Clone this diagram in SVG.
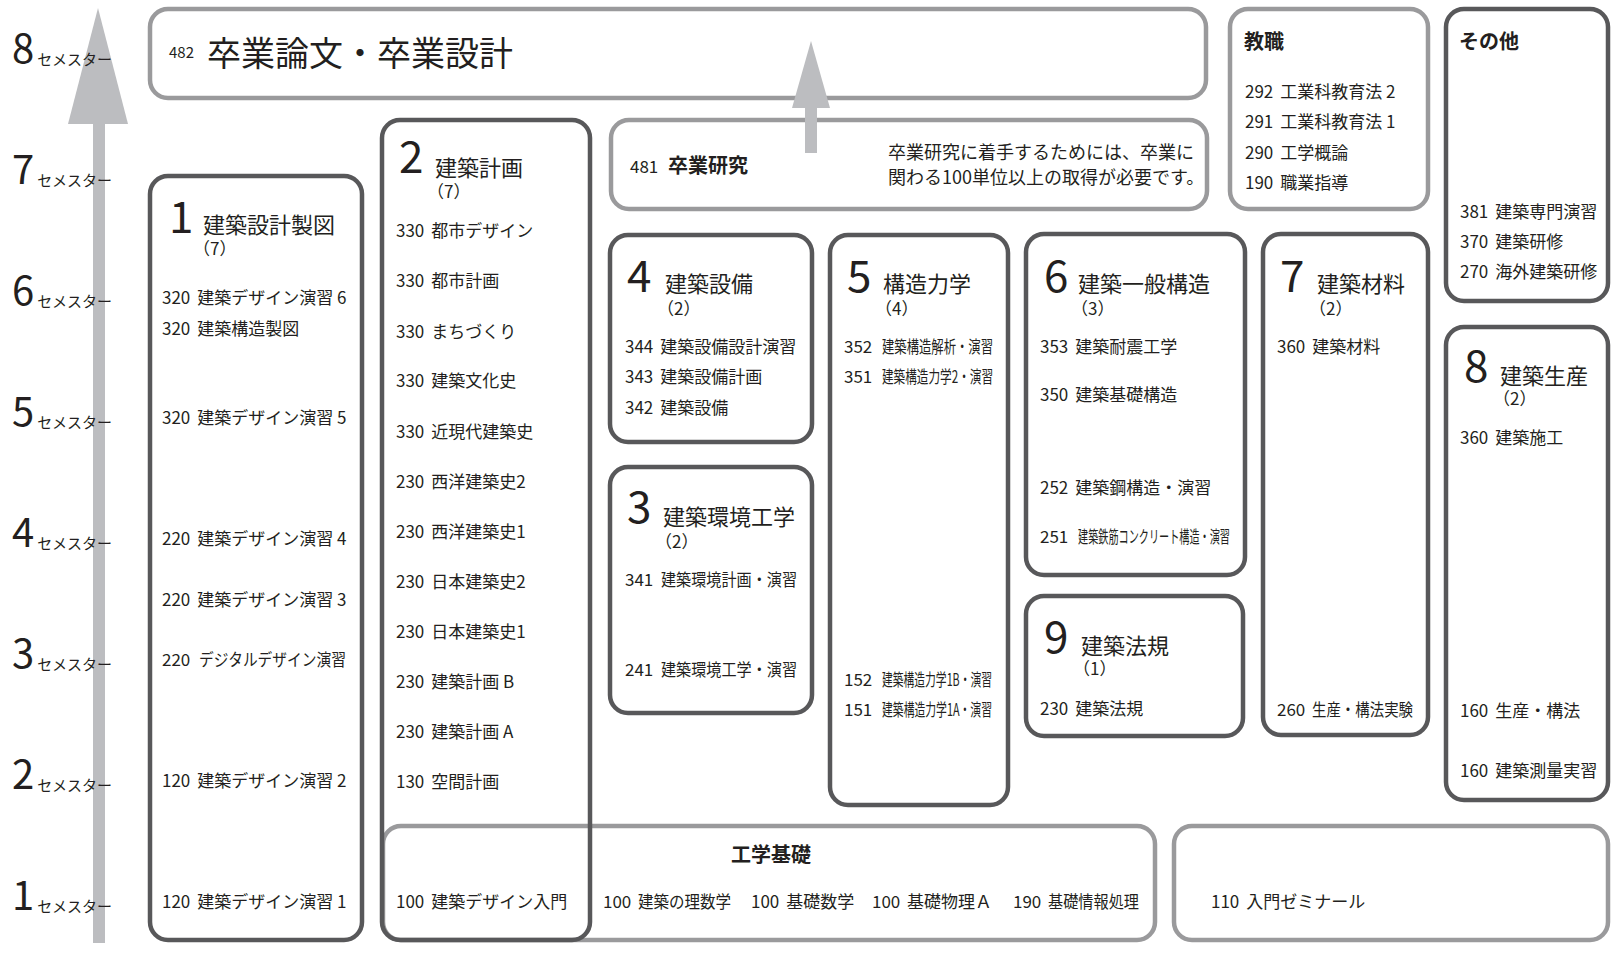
<svg xmlns="http://www.w3.org/2000/svg" width="1620" height="954" viewBox="0 0 1620 954">
<style>
text{font-family:"Noto Sans CJK JP","Noto Sans CJK SC",sans-serif;fill:#231f20}
.c{font-size:17px}
.sm{font-size:15px}
.big{font-size:44px}
.ttl{font-size:22px}
.par{font-size:17px}
.b{font-size:20px;font-weight:bold}
.dk{fill:none;stroke:#58585a;stroke-width:4.5}
.lt{fill:none;stroke:#9a9a9c;stroke-width:4.5}
.arr{fill:#bcbdc0}
.sd{font-size:40px}
</style>
<rect width="1620" height="954" fill="#fff"/>

<g id="connectors">
<rect class="arr" x="93" y="120" width="12" height="823"/>
<polygon class="arr" points="98,8 128,124 68,124"/>
</g>

<g id="semesters">
<text x="112" y="63" text-anchor="end"><tspan class="sd">8</tspan><tspan class="sm" dx="3" dy="2">セメスター</tspan></text>
<text x="112" y="184" text-anchor="end"><tspan class="sd">7</tspan><tspan class="sm" dx="3" dy="2">セメスター</tspan></text>
<text x="112" y="305" text-anchor="end"><tspan class="sd">6</tspan><tspan class="sm" dx="3" dy="2">セメスター</tspan></text>
<text x="112" y="426" text-anchor="end"><tspan class="sd">5</tspan><tspan class="sm" dx="3" dy="2">セメスター</tspan></text>
<text x="112" y="547" text-anchor="end"><tspan class="sd">4</tspan><tspan class="sm" dx="3" dy="2">セメスター</tspan></text>
<text x="112" y="668" text-anchor="end"><tspan class="sd">3</tspan><tspan class="sm" dx="3" dy="2">セメスター</tspan></text>
<text x="112" y="789" text-anchor="end"><tspan class="sd">2</tspan><tspan class="sm" dx="3" dy="2">セメスター</tspan></text>
<text x="112" y="910" text-anchor="end"><tspan class="sd">1</tspan><tspan class="sm" dx="3" dy="2">セメスター</tspan></text>
</g>

<g id="n482">
<rect class="lt" x="150" y="9" width="1056" height="89" rx="18"/>
<text class="sm" x="169" y="58">482</text>
<text x="207" y="66" font-size="34">卒業論文・卒業設計</text>
</g>

<g id="n481">
<rect class="lt" x="611" y="120" width="596" height="89" rx="18"/>
<text class="c" x="630" y="173">481</text>
<text class="b" x="668" y="173">卒業研究</text>
<text x="888" y="159" font-size="18">卒業研究に着手するためには、卒業に</text>
<text x="888" y="184" font-size="18">関わる100単位以上の取得が必要です。</text>
</g>

<g id="kyoshoku">
<rect class="lt" x="1230" y="9" width="198" height="200" rx="18"/>
<text class="b" x="1244" y="49">教職</text>
<text class="c" x="1245" y="98">292<tspan dx="7">工業科教育法 2</tspan></text>
<text class="c" x="1245" y="128">291<tspan dx="7">工業科教育法 1</tspan></text>
<text class="c" x="1245" y="159">290<tspan dx="7">工学概論</tspan></text>
<text class="c" x="1245" y="189">190<tspan dx="7">職業指導</tspan></text>
</g>

<g id="sonota">
<rect class="dk" x="1446" y="9" width="162" height="292" rx="18"/>
<text class="b" x="1459" y="49">その他</text>
<text class="c" x="1460" y="218">381<tspan dx="7">建築専門演習</tspan></text>
<text class="c" x="1460" y="248">370<tspan dx="7">建築研修</tspan></text>
<text class="c" x="1460" y="278">270<tspan dx="7">海外建築研修</tspan></text>
</g>

<g id="n1">
<rect class="dk" x="150" y="176" width="212" height="764" rx="18"/>
<text class="big" x="169" y="233">1</text>
<text class="ttl" x="203" y="233">建築設計製図</text>
<text class="par" x="193" y="255">（7）</text>
<text class="c" x="162" y="304">320<tspan dx="7">建築デザイン演習 6</tspan></text>
<text class="c" x="162" y="335">320<tspan dx="7">建築構造製図</tspan></text>
<text class="c" x="162" y="424">320<tspan dx="7">建築デザイン演習 5</tspan></text>
<text class="c" x="162" y="545">220<tspan dx="7">建築デザイン演習 4</tspan></text>
<text class="c" x="162" y="606">220<tspan dx="7">建築デザイン演習 3</tspan></text>
<text class="c" x="162" y="666">220</text><text class="c" x="199" y="666" textLength="147" lengthAdjust="spacingAndGlyphs">デジタルデザイン演習</text>
<text class="c" x="162" y="787">120<tspan dx="7">建築デザイン演習 2</tspan></text>
<text class="c" x="162" y="908">120<tspan dx="7">建築デザイン演習 1</tspan></text>
</g>

<g id="kogakukiso">
<rect class="lt" x="383" y="826" width="772" height="114" rx="18"/>
<text class="b" x="771" y="862" text-anchor="middle" font-size="21">工学基礎</text>
<text class="c" x="603" y="908">100</text><text class="c" x="638" y="908" textLength="93" lengthAdjust="spacingAndGlyphs">建築の理数学</text>
<text class="c" x="751" y="908">100<tspan dx="7">基礎数学</tspan></text>
<text class="c" x="872" y="908">100</text><text class="c" x="907" y="908" textLength="85" lengthAdjust="spacingAndGlyphs">基礎物理Ａ</text>
<text class="c" x="1013" y="908">190</text><text class="c" x="1048" y="908" textLength="91" lengthAdjust="spacingAndGlyphs">基礎情報処理</text>
</g>

<g id="n2">
<rect class="dk" x="382" y="120" width="208" height="820" rx="18"/>
<text class="big" x="399" y="173">2</text>
<text class="ttl" x="435" y="176">建築計画</text>
<text class="par" x="427" y="198">（7）</text>
<text class="c" x="396" y="237">330<tspan dx="7">都市デザイン</tspan></text>
<text class="c" x="396" y="287">330<tspan dx="7">都市計画</tspan></text>
<text class="c" x="396" y="338">330<tspan dx="7">まちづくり</tspan></text>
<text class="c" x="396" y="387">330<tspan dx="7">建築文化史</tspan></text>
<text class="c" x="396" y="438">330<tspan dx="7">近現代建築史</tspan></text>
<text class="c" x="396" y="488">230<tspan dx="7">西洋建築史2</tspan></text>
<text class="c" x="396" y="538">230<tspan dx="7">西洋建築史1</tspan></text>
<text class="c" x="396" y="588">230<tspan dx="7">日本建築史2</tspan></text>
<text class="c" x="396" y="638">230<tspan dx="7">日本建築史1</tspan></text>
<text class="c" x="396" y="688">230<tspan dx="7">建築計画 B</tspan></text>
<text class="c" x="396" y="738">230<tspan dx="7">建築計画 A</tspan></text>
<text class="c" x="396" y="788">130<tspan dx="7">空間計画</tspan></text>
<text class="c" x="396" y="908">100<tspan dx="7">建築デザイン入門</tspan></text>
</g>

<g id="n4">
<rect class="dk" x="610" y="235" width="202" height="207" rx="18"/>
<text class="big" x="627" y="292">4</text>
<text class="ttl" x="665" y="292">建築設備</text>
<text class="par" x="657" y="315">（2）</text>
<text class="c" x="625" y="353">344<tspan dx="7">建築設備設計演習</tspan></text>
<text class="c" x="625" y="383">343<tspan dx="7">建築設備計画</tspan></text>
<text class="c" x="625" y="414">342<tspan dx="7">建築設備</tspan></text>
</g>

<g id="n3">
<rect class="dk" x="610" y="467" width="202" height="246" rx="18"/>
<text class="big" x="627" y="523">3</text>
<text class="ttl" x="663" y="525">建築環境工学</text>
<text class="par" x="655" y="548">（2）</text>
<text class="c" x="625" y="586">341</text><text class="c" x="661" y="586" textLength="136" lengthAdjust="spacingAndGlyphs">建築環境計画・演習</text>
<text class="c" x="625" y="676">241</text><text class="c" x="661" y="676" textLength="136" lengthAdjust="spacingAndGlyphs">建築環境工学・演習</text>
</g>

<g id="n5">
<rect class="dk" x="830" y="235" width="178" height="570" rx="18"/>
<text class="big" x="847" y="292">5</text>
<text class="ttl" x="883" y="292">構造力学</text>
<text class="par" x="875" y="315">（4）</text>
<text class="c" x="844" y="353">352</text><text class="c" x="882" y="353" textLength="111" lengthAdjust="spacingAndGlyphs">建築構造解析・演習</text>
<text class="c" x="844" y="383">351</text><text class="c" x="882" y="383" textLength="111" lengthAdjust="spacingAndGlyphs">建築構造力学2・演習</text>
<text class="c" x="844" y="686">152</text><text class="c" x="882" y="686" textLength="110" lengthAdjust="spacingAndGlyphs">建築構造力学1B・演習</text>
<text class="c" x="844" y="716">151</text><text class="c" x="882" y="716" textLength="110" lengthAdjust="spacingAndGlyphs">建築構造力学1A・演習</text>
</g>

<g id="n6">
<rect class="dk" x="1026" y="234" width="219" height="341" rx="18"/>
<text class="big" x="1044" y="292">6</text>
<text class="ttl" x="1078" y="292">建築一般構造</text>
<text class="par" x="1071" y="315">（3）</text>
<text class="c" x="1040" y="353">353<tspan dx="7">建築耐震工学</tspan></text>
<text class="c" x="1040" y="401">350<tspan dx="7">建築基礎構造</tspan></text>
<text class="c" x="1040" y="494">252<tspan dx="7">建築鋼構造・演習</tspan></text>
<text class="c" x="1040" y="543">251</text><text class="c" x="1078" y="543" textLength="152" lengthAdjust="spacingAndGlyphs">建築鉄筋コンクリート構造・演習</text>
</g>

<g id="n9">
<rect class="dk" x="1026" y="596" width="217" height="140" rx="18"/>
<text class="big" x="1044" y="653">9</text>
<text class="ttl" x="1081" y="654">建築法規</text>
<text class="par" x="1073" y="675">（1）</text>
<text class="c" x="1040" y="715">230<tspan dx="7">建築法規</tspan></text>
</g>

<g id="n7">
<rect class="dk" x="1263" y="234" width="165" height="501" rx="18"/>
<text class="big" x="1280" y="292">7</text>
<text class="ttl" x="1317" y="292">建築材料</text>
<text class="par" x="1309" y="315">（2）</text>
<text class="c" x="1277" y="353">360<tspan dx="7">建築材料</tspan></text>
<text class="c" x="1277" y="716">260</text><text class="c" x="1312" y="716" textLength="101" lengthAdjust="spacingAndGlyphs">生産・構法実験</text>
</g>

<g id="n8">
<rect class="dk" x="1446" y="327" width="162" height="473" rx="18"/>
<text class="big" x="1464" y="382">8</text>
<text class="ttl" x="1500" y="384">建築生産</text>
<text class="par" x="1493" y="405">（2）</text>
<text class="c" x="1460" y="444">360<tspan dx="7">建築施工</tspan></text>
<text class="c" x="1460" y="717">160<tspan dx="7">生産・構法</tspan></text>
<text class="c" x="1460" y="777">160<tspan dx="7">建築測量実習</tspan></text>
</g>

<g id="nyumon">
<rect class="lt" x="1174" y="826" width="434" height="114" rx="18"/>
<text class="c" x="1211" y="908">110<tspan dx="7">入門ゼミナール</tspan></text>
</g>

<g id="connectors-top">
<rect class="arr" x="805" y="104" width="12" height="49"/>
<polygon class="arr" points="811,41 830,108 792,108"/>
</g>
</svg>
